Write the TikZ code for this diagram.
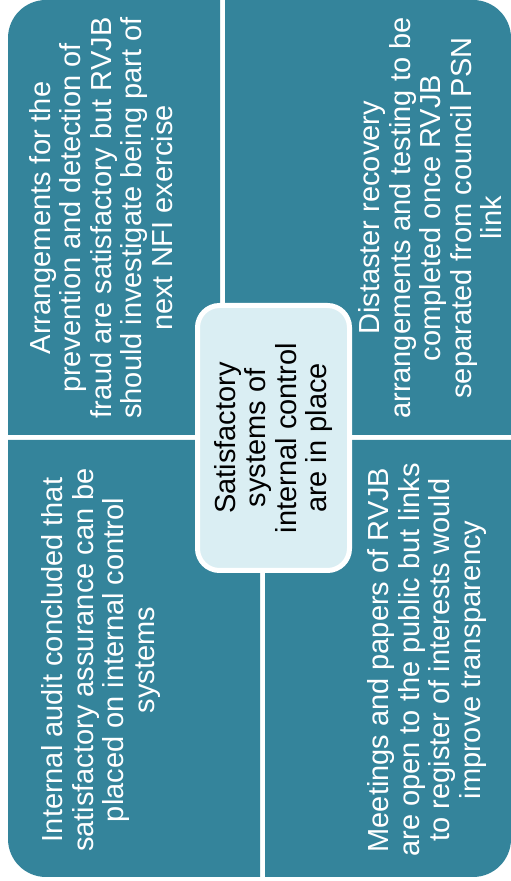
\documentclass[tikz,border=0pt]{standalone}
\usepackage{fontspec}
\setmainfont{Liberation Sans}
\usepackage[usenames,dvipsnames]{xcolor}
\definecolor{panel}{RGB}{52,132,155}
\definecolor{hubfill}{RGB}{218,238,243}
\tikzstyle{every picture}+=[remember picture]

\begin{document}
\begin{tikzpicture}[x=1pt,y=1pt,
	txt/.style={rotate=90,align=center,text=white,font=\fontsize{29}{30.5}\selectfont},
	hub/.style={rotate=90,align=center,fill=hubfill,draw=white,line width=5pt,rounded corners=22pt,
		minimum width=265pt,minimum height=152pt,font=\fontsize{29}{30.5}\selectfont}]
\useasboundingbox (0,0) rectangle (511,881);
\fill[panel] (8,446) -- (8,843) arc[start angle=180,end angle=90,radius=38] -- (220,881) -- (220,446) -- cycle;
\fill[panel] (225,446) -- (225,881) -- (473,881) arc[start angle=90,end angle=0,radius=38] -- (511,446) -- cycle;
\fill[panel] (8,441) -- (8,42) arc[start angle=180,end angle=270,radius=38] -- (260,4) -- (260,441) -- cycle;
\fill[panel] (265,441) -- (265,4) -- (473,4) arc[start angle=270,end angle=360,radius=38] -- (511,441) -- cycle;
\node [txt] (a) at (101,663) {Arrangements for the\\prevention and detection of\\fraud are satisfactory but RVJB\\should investigate being part of\\next NFI exercise};
\node [txt] (b) at (430,663) {Distaster recovery\\arrangements and testing to be\\completed once RVJB\\separated from council PSN\\link};
\node [txt] (c) at (101,221) {Internal audit concluded that\\satisfactory assurance can be\\placed on internal control\\systems};
\node [txt] (d) at (427,221) {Meetings and papers of RVJB\\are open to the public but links\\to register of interests would\\improve transparency};
\node [hub] (z) at (273.5,443) {Satisfactory\\systems of\\internal control\\are in place};
\end{tikzpicture}
\end{document}
